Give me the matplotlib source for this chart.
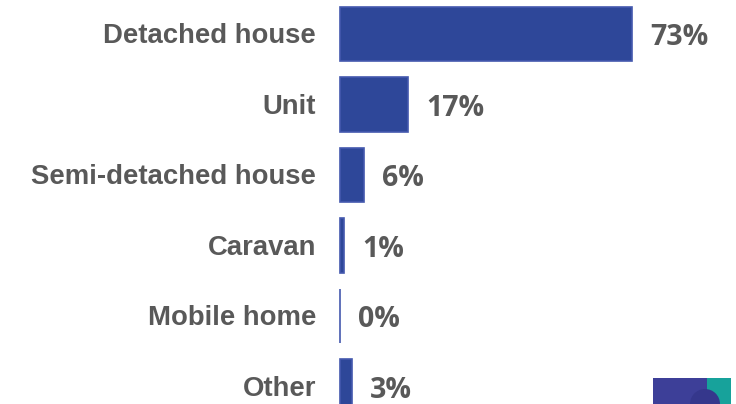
import matplotlib
matplotlib.use("Agg")
import matplotlib.pyplot as plt
from matplotlib.patches import Rectangle, Wedge

categories = ["Detached house", "Unit", "Semi-detached house", "Caravan", "Mobile home", "Other"]
shares = [73, 17, 6, 1, 0, 3]
value_labels = ["73%", "17%", "6%", "1%", "0%", "3%"]

BAR = "#2E4799"
EDGE = "#4459AE"
TEXT = "#595959"

W, H = 736, 404
fig = plt.figure(figsize=(W / 100, H / 100), dpi=100)
ax = fig.add_axes([0, 0, 1, 1])

# 4 px per percentage point, zero line at x=340 px
px_per_unit = 4.0
x0_px = 340
ax.set_xlim(-x0_px / px_per_unit, (W - x0_px) / px_per_unit)
pitch = 70.5
first_center = 34
ax.set_ylim((H - first_center) / pitch, -first_center / pitch)
ax.axis("off")

ypos = list(range(len(categories)))
ax.barh(ypos, shares, height=0.766, color=BAR, edgecolor=EDGE, linewidth=1.2)

label_font = {"family": ["Liberation Sans", "DejaVu Sans"], "weight": "bold", "size": 19.8}
value_font = {"family": ["Open Sans", "DejaVu Sans"], "weight": "bold", "size": 20.5}

for y, cat, v, lab in zip(ypos, categories, shares, value_labels):
    ax.text(-24 / px_per_unit, y + 0.03, cat, ha="right", va="center", color=TEXT, **label_font)
    ax.text(v + 18 / px_per_unit, y + 0.05, lab, ha="left", va="center", color=TEXT, **value_font)

# logo mark in the lower-right corner
logo_ax = fig.add_axes([653 / W, 0, (W - 653) / W, 26 / H])
logo_ax.set_xlim(0, 83)
logo_ax.set_ylim(0, 26)
logo_ax.axis("off")
logo_ax.add_patch(Rectangle((0, 0), 54, 26, color="#3D3F98", lw=0))
logo_ax.add_patch(Rectangle((54, 0), 24, 26, color="#17A29B", lw=0))
logo_ax.add_patch(Wedge((52, 0), 15, 0, 180, color="#35378C", lw=0))

fig.savefig("out.png", dpi=100)
